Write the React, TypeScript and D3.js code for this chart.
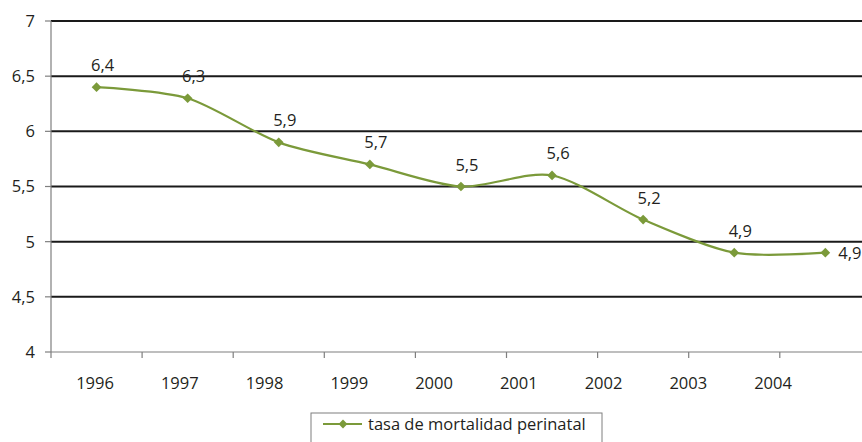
import React from "react";
import * as d3 from "d3";

const years = ["1996", "1997", "1998", "1999", "2000", "2001", "2002", "2003", "2004"];
const values = [6.4, 6.3, 5.9, 5.7, 5.5, 5.6, 5.2, 4.9, 4.9];
const valueLabels = ["6,4", "6,3", "5,9", "5,7", "5,5", "5,6", "5,2", "4,9", "4,9"];
const yTicks = [4, 4.5, 5, 5.5, 6, 6.5, 7];
const yTickLabels = ["4", "4,5", "5", "5,5", "6", "6,5", "7"];
const seriesName = "tasa de mortalidad perinatal";

const W = 862;
const H = 442;
const left = 51;
const top = 21;
const bottom = 352;
const step = 91.1;
const labelStep = 84.75;
const green = "#7b9a3a";
const font = "'Open Sans', sans-serif";
const fs = 16.5;

export default function App() {
  const x = d3.scaleBand<string>().domain(years).range([left, left + step * years.length]).padding(0);
  const xl = d3
    .scaleBand<string>()
    .domain(years)
    .range([95 - labelStep / 2, 95 - labelStep / 2 + labelStep * years.length])
    .padding(0);
  const y = d3.scaleLinear().domain([4, 7]).range([bottom, top]);
  const cx = (d: string) => (x(d) as number) + x.bandwidth() / 2;

  const pts: [number, number][] = years.map((yr, i) => [cx(yr), y(values[i])]);
  const line = d3.line().curve(d3.curveCardinal.tension(0.15))(pts) || "";
  const diamond = d3.symbol().type(d3.symbolDiamond2).size(60)() || "";
  const legDiamond = d3.symbol().type(d3.symbolDiamond2).size(50)() || "";

  return (
    <svg
      width={W}
      height={H}
      style={{ position: "absolute", left: 0, top: 0, background: "#fff" }}
      fontFamily={font}
    >
      {yTicks.slice(1).map((t) => (
        <line key={t} x1={left} x2={W} y1={y(t)} y2={y(t)} stroke="#1a1a1a" strokeWidth={2} />
      ))}
      <line x1={left} x2={left} y1={top} y2={bottom} stroke="#7f7f7f" strokeWidth={1.2} />
      {yTicks.map((t, i) => (
        <g key={t}>
          <line x1={left - 6} x2={left} y1={y(t)} y2={y(t)} stroke="#7f7f7f" strokeWidth={1.2} />
          <text x={35} y={y(t)} dy="0.36em" textAnchor="end" fontSize={fs} fill="#231f20">
            {yTickLabels[i]}
          </text>
        </g>
      ))}
      <line x1={left} x2={W} y1={bottom} y2={bottom} stroke="#7f7f7f" strokeWidth={1.2} />
      {years.map((yr) => (
        <line
          key={yr}
          x1={x(yr) as number}
          x2={x(yr) as number}
          y1={bottom}
          y2={bottom + 6}
          stroke="#7f7f7f"
          strokeWidth={1.2}
        />
      ))}
      {years.map((yr) => (
        <text
          key={yr}
          x={(xl(yr) as number) + xl.bandwidth() / 2}
          y={383}
          dy="0.36em"
          textAnchor="middle"
          fontSize={fs}
          fill="#231f20"
        >
          {yr}
        </text>
      ))}
      <path d={line} fill="none" stroke={green} strokeWidth={2.2} />
      {pts.map(([px, py], i) => (
        <path key={i} d={diamond} transform={`translate(${px},${py})`} fill={green} />
      ))}
      {pts.map(([px, py], i) =>
        i === pts.length - 1 ? (
          <text key={i} x={px + 13} y={py} dy="0.36em" textAnchor="start" fontSize={fs} fill="#231f20">
            {valueLabels[i]}
          </text>
        ) : (
          <text key={i} x={px + 6} y={py - 16} textAnchor="middle" fontSize={fs} fill="#231f20">
            {valueLabels[i]}
          </text>
        )
      )}
      <rect x={311} y={413} width={291} height={40} fill="#fff" stroke="#7f7f7f" strokeWidth={1} />
      <line x1={323} x2={362} y1={424} y2={424} stroke={green} strokeWidth={2.2} />
      <path d={legDiamond} transform="translate(343,424)" fill={green} />
      <text x={368} y={424} dy="0.36em" fontSize={fs} fill="#231f20">
        {seriesName}
      </text>
    </svg>
  );
}
